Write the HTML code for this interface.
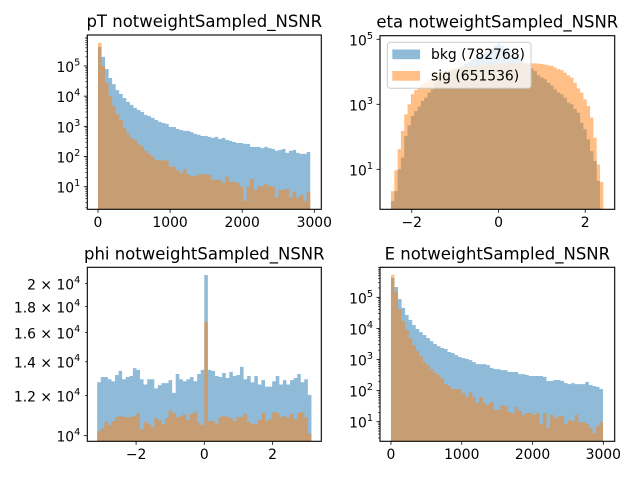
<!DOCTYPE html>
<html><head><meta charset="utf-8"><style>
html,body{margin:0;padding:0;background:#fff}
svg{display:block}
text{font-family:"DejaVu Sans","Liberation Sans",sans-serif;fill:#000}
</style></head><body>
<svg id="fig" width="640" height="480" viewBox="0 0 640 480" xmlns="http://www.w3.org/2000/svg"></svg>
<script>
// ---- data ----
const ptBkgLog10 = [5.63,5.30,4.9,4.6,4.4,4.2,4.07,3.94,3.81,3.71,3.61,3.54,3.48,3.38,3.34,3.28,3.21,3.15,3.11,3.08,2.98,2.98,2.91,2.88,2.85,2.85,2.81,2.75,2.72,2.68,2.68,2.65,2.62,2.65,2.58,2.62,2.55,2.52,2.48,2.45,2.45,2.42,2.42,2.32,2.32,2.32,2.28,2.32,2.28,2.25,2.19,2.22,2.25,2.12,2.19,2.22,2.12,2.09,2.09,2.15];
const ptSigLog10 = [5.76,5.0,4.44,4.0,3.68,3.41,3.21,2.95,2.78,2.62,2.55,2.42,2.35,2.19,2.09,1.99,1.89,1.86,1.89,1.86,1.66,1.66,1.56,1.46,1.59,1.42,1.36,1.36,1.42,1.39,1.42,1.39,1.23,1.23,1.23,1.13,1.33,1.16,1.16,1.13,1.0,0.53,1.0,1.26,0.89,1.03,1.0,1.09,1.03,1.0,0.63,0.89,0.89,0.93,0.63,0.83,0.63,0.73,0.53,0.83];
const etaBkgLog10 = [0.02,0.33,1.0,1.36,2.02,2.35,2.64,2.79,2.93,3.1,3.2,3.36,3.46,3.66,3.75,3.83,3.9,3.97,4.03,4.08,4.13,4.18,4.24,4.3,4.37,4.42,4.47,4.53,4.6,4.67,4.72,4.8,4.87,4.8,4.7,4.63,4.55,4.47,4.4,4.34,4.27,4.2,4.1,4.02,3.89,3.82,3.77,3.66,3.58,3.46,3.36,3.31,3.2,3.05,3.0,2.86,2.74,2.43,2.23,1.92,1.56,1.26,0.64,null];
const etaSigLog10 = [0.33,0.97,1.62,2.18,2.69,3.0,3.31,3.44,3.51,3.62,3.69,3.77,3.87,3.92,3.97,4.0,4.03,4.06,4.09,4.11,4.13,4.15,4.16,4.17,4.18,4.19,4.2,4.21,4.22,4.22,4.23,4.24,4.25,4.26,4.26,4.27,4.27,4.28,4.28,4.28,4.27,4.27,4.26,4.26,4.25,4.24,4.22,4.2,4.18,4.13,4.08,4.05,3.97,3.89,3.82,3.66,3.49,3.36,3.15,2.95,2.59,1.97,1.15,0.61];
const phiBkg = [12750,13060,13060,12930,12810,13180,13430,12930,13060,13120,13600,13490,12930,12620,12930,12930,12400,12590,12700,12700,12880,12150,13240,12930,12810,12930,13060,12810,13240,13490,20780,13490,13430,13120,13060,13300,13000,13370,13120,13180,13680,12930,13120,12750,13120,12620,12880,12500,12500,12810,13120,12620,12880,12620,12880,13000,13240,12750,12930,12040];
const phiSig = [10200,10350,10650,10500,10690,10890,10940,10890,10890,10890,10940,11090,10300,10650,10550,10400,10840,10740,10550,10840,11240,11090,10890,10940,11040,10740,11040,11140,10600,10500,16800,10690,10690,10550,10890,10940,10890,10840,10690,10890,10890,11040,10650,10550,10550,10740,11090,10690,10790,11140,11090,10890,10940,10840,11040,10790,11090,11140,10890,10100];
const eBkgLog10 = [5.62,5.33,4.94,4.66,4.43,4.27,4.11,3.98,3.88,3.79,3.69,3.59,3.50,3.43,3.37,3.34,3.24,3.21,3.14,3.08,3.05,3.02,2.98,2.92,2.85,2.85,2.85,2.82,2.73,2.69,2.69,2.66,2.66,2.60,2.60,2.60,2.53,2.53,2.50,2.47,2.47,2.47,2.47,2.44,2.31,2.31,2.34,2.34,2.31,2.24,2.21,2.24,2.21,2.21,2.21,2.28,2.18,2.15,2.12,2.05];
const eSigLog10 = [5.72,5.17,4.62,4.24,3.95,3.69,3.47,3.27,3.11,2.92,2.82,2.69,2.57,2.50,2.40,2.21,2.15,2.05,2.05,2.05,1.92,1.79,1.95,1.79,1.60,1.79,1.60,1.54,1.63,1.38,1.38,1.54,1.50,1.31,1.28,1.47,1.34,1.22,1.28,1.28,1.22,1.28,0.93,1.28,0.80,1.22,1.12,1.18,1.18,0.93,1.05,1.02,1.22,0.99,0.99,0.93,0.80,0.64,0.86,0.99];
const ptXTicks = [0,1000,2000,3000];
const eXTicks = [0,1000,2000,3000];
const etaXTicks = [-2,0,2];
const phiXTicks = [-2,0,2];
const ptYExp = [1,2,3,4,5];
const eYExp = [1,2,3,4,5];
const etaYExp = [1,3,5];
const phiYTicks = [10000,12000,14000,16000,18000,20000];
const phiYLabels = ["10","1.2 × 10","1.4 × 10","1.6 × 10","1.8 × 10","2 × 10"];
const legendLabels = ["bkg (782768)","sig (651536)"];

const NS="http://www.w3.org/2000/svg";
const svg=document.getElementById('fig');
function mk(tag,attrs,parent){const e=document.createElementNS(NS,tag);for(const k in attrs)e.setAttribute(k,attrs[k]);(parent||svg).appendChild(e);return e;}
const BLUE='#1f77b4',ORANGE='#ff7f0e';
function unlog(a){return a.map(v=>v===null?0:Math.pow(10,v));}

function panel(p){
  const g=mk('g',{});
  
  
  const sx=v=>p.L+(v-p.xmin)/(p.xmax-p.xmin)*(p.R-p.L);
  const sy=v=>p.B-(Math.log10(v)-p.lmin)/(p.lmax-p.lmin)*(p.B-p.T);
  const series=[[p.bkg,BLUE,'bkg-histogram'],[p.sig,ORANGE,'sig-histogram']];
  const clip='clip-'+p.name;
  const cp=mk('clipPath',{id:clip},g);mk('rect',{x:p.L,y:p.T,width:p.R-p.L,height:p.B-p.T},cp);
  series.forEach(([vals,col,nm])=>{
    const w=(p.hi-p.lo)/vals.length;let d='';
    vals.forEach((v,i)=>{ if(!(v>0))return;
      const x0=sx(p.lo+i*w),x1=sx(p.lo+(i+1)*w),y=Math.max(sy(v),p.T-5);
      d+=`M${x0.toFixed(2)},${p.B+2}V${y.toFixed(2)}H${x1.toFixed(2)}V${p.B+2}Z`;});
    const path=mk('path',{d:d,fill:col,'fill-opacity':0.5,'clip-path':`url(#${clip})`},g);
    
    
  });
  // x ticks
  p.xticks.forEach(t=>{const x=sx(t);
    mk('line',{x1:x,x2:x,y1:p.B,y2:p.B+3.5,stroke:'#000','stroke-width':0.8},g);
    const tx=mk('text',{x:x,y:p.B+17.5,'font-size':13.9,'text-anchor':'middle'},g);
    tx.textContent=t<0?'\u2212'+(-t):String(t);
    
    });
  // y ticks
  if(p.yexp){
    if(p.minor){for(let d=Math.floor(p.lmin);d<=Math.ceil(p.lmax);d++)for(let m=2;m<=9;m++){const l=d+Math.log10(m);if(l<p.lmin||l>p.lmax)continue;const y=sy(Math.pow(10,l));mk('line',{x1:p.L-2,x2:p.L,y1:y,y2:y,stroke:'#000','stroke-width':0.6},g);}}
    p.yexp.forEach(e=>{const y=sy(Math.pow(10,e));
      mk('line',{x1:p.L-3.5,x2:p.L,y1:y,y2:y,stroke:'#000','stroke-width':0.8},g);
      const tx=mk('text',{x:p.L-7,y:y+6,'font-size':13.9,'text-anchor':'end'},g);
      
      
      const a=mk('tspan',{},tx);a.textContent='10';
      const b=mk('tspan',{'font-size':9.7,dy:-6.5},tx);b.textContent=String(e);});
  } else {
    p.yticks.forEach((t,i)=>{const y=sy(t);
      mk('line',{x1:p.L-(i===0?3.5:2),x2:p.L,y1:y,y2:y,stroke:'#000','stroke-width':0.8},g);
      const tx=mk('text',{x:p.L-7,y:y+6,'font-size':13.9,'text-anchor':'end'},g);
      
      
      const a=mk('tspan',{},tx);a.textContent=p.ylabels[i];
      const b=mk('tspan',{'font-size':9.7,dy:-6.5},tx);b.textContent='4';});
  }
  const fr=mk('rect',{x:p.L,y:p.T,width:p.R-p.L,height:p.B-p.T,fill:'none',stroke:'#000','stroke-width':1.1},g);
  
  
  const ti=mk('text',{x:(p.L+p.R)/2,y:p.T-8,'font-size':16.5,'text-anchor':'middle'},g);
  ti.textContent=p.title;
  
  
  return g;
}

panel({name:'pt-panel',title:'pT notweightSampled_NSNR',L:87.3,R:321.3,T:35,B:209.3,xmin:-148,xmax:3097,lmin:0.252,lmax:6.026,lo:0,hi:2944,bkg:unlog(ptBkgLog10),sig:unlog(ptSigLog10),xticks:ptXTicks,yexp:ptYExp,minor:true});
panel({name:'eta-panel',title:'eta notweightSampled_NSNR',L:380,R:614.7,T:35.7,B:209.3,xmin:-2.733,xmax:2.68,lmin:-0.23,lmax:5.11,lo:-2.48,hi:2.418,bkg:unlog(etaBkgLog10),sig:unlog(etaSigLog10),xticks:etaXTicks,yexp:etaYExp,minor:false});
panel({name:'phi-panel',title:'phi notweightSampled_NSNR',L:87.3,R:321.3,T:267.3,B:441.3,xmin:-3.431,xmax:3.431,lmin:3.9889,lmax:4.3328,lo:-Math.PI,hi:Math.PI,bkg:phiBkg,sig:phiSig,xticks:phiXTicks,yticks:phiYTicks,ylabels:phiYLabels});
panel({name:'e-panel',title:'E notweightSampled_NSNR',L:380,R:614.7,T:267.3,B:441.3,xmin:-155,xmax:3161,lmin:0.370,lmax:5.965,lo:0,hi:2996,bkg:unlog(eBkgLog10),sig:unlog(eSigLog10),xticks:eXTicks,yexp:eYExp,minor:true});

// legend
const lg=mk('g',{});


mk('rect',{x:387.3,y:42.3,width:143.7,height:46,rx:3,fill:'#fff','fill-opacity':0.8,stroke:'#cccccc','stroke-width':1},lg);
[[BLUE,49.5],[ORANGE,71]].forEach(([c,y],i)=>{
  const r=mk('rect',{x:392.3,y:y,width:27.8,height:9.7,fill:c,'fill-opacity':0.5},lg);
  
  
  const t=mk('text',{x:431,y:y+9.5,'font-size':13.9},lg);
  t.textContent=legendLabels[i];
  
  
});
</script>
</body></html>
